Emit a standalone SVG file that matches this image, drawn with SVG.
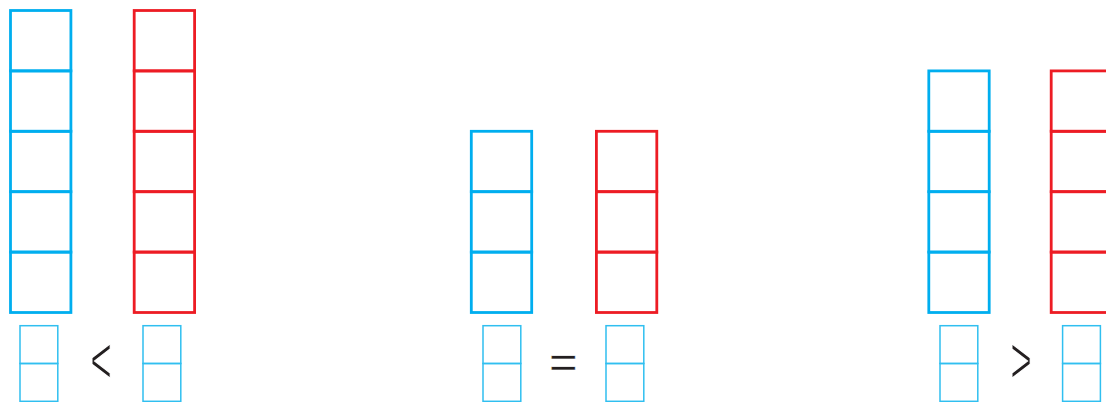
<svg xmlns="http://www.w3.org/2000/svg" width="1106" height="402" viewBox="0 0 1106 402">
<style>
.b{fill:none;stroke:#00aeef;stroke-width:2.8}
.r{fill:none;stroke:#ed1c24;stroke-width:2.8}
.s{fill:none;stroke:#30bff0;stroke-width:1.5}
.sym{font-family:"Liberation Sans",Arial,sans-serif;fill:#231f20;stroke:#fff;stroke-width:1.2;text-anchor:middle}
.eq{stroke-width:0.4}
</style>
<defs>
<rect id="cell" width="60.4" height="60.4"/>
<g id="small"><rect class="s" x="0" y="0" width="37.8" height="37.8"/><rect class="s" x="0" y="37.8" width="37.8" height="37.8"/></g>
</defs>
<g id="left-blue" class="b">
<use href="#cell" x="10.5" y="10.5"/><use href="#cell" x="10.5" y="70.9"/><use href="#cell" x="10.5" y="131.3"/><use href="#cell" x="10.5" y="191.7"/><use href="#cell" x="10.5" y="252.1"/>
</g>
<g id="left-red" class="r">
<use href="#cell" x="134.2" y="10.5"/><use href="#cell" x="134.2" y="70.9"/><use href="#cell" x="134.2" y="131.3"/><use href="#cell" x="134.2" y="191.7"/><use href="#cell" x="134.2" y="252.1"/>
</g>
<g id="mid-blue" class="b">
<use href="#cell" x="471.3" y="131.3"/><use href="#cell" x="471.3" y="191.7"/><use href="#cell" x="471.3" y="252.1"/>
</g>
<g id="mid-red" class="r">
<use href="#cell" x="596.4" y="131.3"/><use href="#cell" x="596.4" y="191.7"/><use href="#cell" x="596.4" y="252.1"/>
</g>
<g id="right-blue" class="b">
<use href="#cell" x="928.8" y="70.9"/><use href="#cell" x="928.8" y="131.3"/><use href="#cell" x="928.8" y="191.7"/><use href="#cell" x="928.8" y="252.1"/>
</g>
<g id="right-red" class="r">
<use href="#cell" x="1051.2" y="70.9"/><use href="#cell" x="1051.2" y="131.3"/><use href="#cell" x="1051.2" y="191.7"/><use href="#cell" x="1051.2" y="252.1"/>
</g>
<g id="answer-boxes">
<use href="#small" x="20" y="325.7"/><use href="#small" x="143" y="325.7"/>
<use href="#small" x="483" y="325.7"/><use href="#small" x="606" y="325.7"/>
<use href="#small" x="940" y="325.7"/><use href="#small" x="1062.6" y="325.7"/>
</g>
<g id="symbols">
<text class="sym" transform="translate(101,383) scale(0.56,1)" x="0" y="0" font-size="66">&lt;</text>
<text class="sym eq" transform="translate(563.3,377.5) scale(1,0.9)" x="0" y="0" font-size="49">=</text>
<text class="sym" transform="translate(1021,383) scale(0.56,1)" x="0" y="0" font-size="66">&gt;</text>
</g>
</svg>
